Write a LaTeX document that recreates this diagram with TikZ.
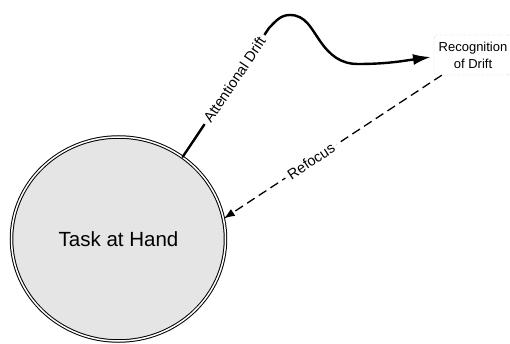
\documentclass[tikz,border=0pt]{standalone}
\usepackage{fontspec}
\setmainfont{Liberation Sans}
\usetikzlibrary{shapes.geometric,arrows.meta,positioning}
\tikzset{
  taskbox/.style={ellipse, draw=black, line width=1pt, double=white, double distance=1.5pt,
    fill=black!10, minimum width=214pt, minimum height=204pt, inner sep=0pt,
    font=\fontsize{20.5}{24}\selectfont},
  recbox/.style={draw=black!55, dotted, rounded corners=4pt, minimum width=78pt, minimum height=40pt,
    align=center, inner sep=0pt, font=\fontsize{13}{17}\selectfont},
  driftline/.style={line width=2.4pt, line cap=round},
  refline/.style={line width=1.3pt, dash pattern=on 9pt off 5pt},
  lbl/.style={sloped, fill=white, inner xsep=4pt, inner ysep=2pt, font=\fontsize{14.5}{17}\selectfont}
}
\begin{document}
\begin{tikzpicture}[x=1pt,y=1pt]
\useasboundingbox (0,0) rectangle (510,343);
\node[taskbox] (task) at (118.5,104) {Task at Hand};
\node[recbox] (rec) at (473,288) {Recognition\\of Drift};
\coordinate (a2) at (269,315);
\coordinate (pk) at (290,328);
\coordinate (mid) at (320,302);
\coordinate (low) at (358,279);
\coordinate (tip) at (431,286);
\coordinate (r0) at ([xshift=8pt]rec.south west);
\draw[driftline] (task.52) -- node[lbl, pos=0.6] (drift) {Attentional Drift} (a2);
\draw[driftline, -{Latex[length=18pt,width=11pt]}] (a2) to[out=45,in=180] (pk)
  to[out=0,in=125] (mid) to[out=-55,in=180] (low) to[out=0,in=188] (tip);
\draw[refline, -{Latex[length=11pt,width=8pt]}] (r0) -- node[lbl, pos=0.6] (refocus) {Refocus} (task.11);
\end{tikzpicture}
\end{document}
